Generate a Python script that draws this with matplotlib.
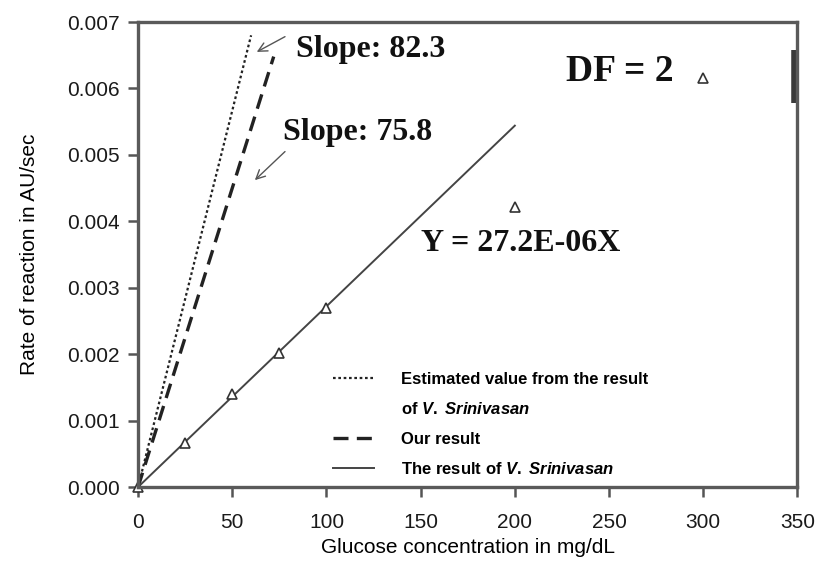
import numpy as np
import matplotlib.pyplot as plt
from matplotlib.lines import Line2D

# measured points (triangles)
conc = [0, 25, 50, 75, 100, 200, 300]
rate = [0.0, 0.00066, 0.0014, 0.00202, 0.0027, 0.00422, 0.00616]

# fitted / estimated lines (end points)
fit_x = [0, 200]
fit_y = [0.0, 0.00544]
ours_x = [0, 72]
ours_y = [0.0, 0.00648]
est_x = [0, 60]
est_y = [0.0, 0.0068]

plt.rcParams['font.family'] = ['Liberation Sans', 'DejaVu Sans']
plt.rcParams['mathtext.fontset'] = 'custom'
plt.rcParams['mathtext.it'] = 'Liberation Sans:bold:italic'
plt.rcParams['mathtext.rm'] = 'Liberation Sans:bold'

fig = plt.figure(figsize=(8.17, 5.65), dpi=100)
ax = fig.add_axes([0.169, 0.138, 0.807, 0.823])

dot_style = (0, (1.2, 1.2))
dash_style = (0, (4.5, 2.5))
ax.plot(est_x, est_y, color='#222222', lw=1.6, linestyle=dot_style)
ax.plot(ours_x, ours_y, color='#222222', lw=2.4, linestyle=dash_style)
ax.plot(fit_x, fit_y, color='#444444', lw=1.4)
ax.plot(conc, rate, linestyle='none', marker='^', ms=7.5, mfc='white',
        mec='#333333', mew=1.2, clip_on=False)

ax.set_xlim(0, 350)
ax.set_ylim(0, 0.007)
ax.set_xticks(np.arange(0, 351, 50))
ax.set_yticks(np.arange(0, 0.0071, 0.001))
ax.set_yticklabels([f'{v:.3f}' for v in np.arange(0, 0.0071, 0.001)])
ax.tick_params(direction='out', length=7, width=1.8, labelsize=15,
               color='#555555', labelcolor='#1a1a1a')
ax.tick_params(axis='x', pad=12)
ax.tick_params(axis='y', pad=6)
for sp in ax.spines.values():
    sp.set_linewidth(2.4)
    sp.set_color('#5a5a5a')
# dark segment on the right border of the original
ax.plot([0.995, 0.995], [0.826, 0.94], transform=ax.transAxes, color='#3a3a3a',
        lw=4, clip_on=False, solid_capstyle='butt')

ax.set_xlabel('Glucose concentration in mg/dL', fontsize=15, labelpad=4)
ax.set_ylabel('Rate of reaction in AU/sec', fontsize=15, labelpad=20)

serif = dict(family='Liberation Serif', fontweight='bold', color='#111111')
arrow = dict(arrowstyle='->', color='#555555', lw=1.0, shrinkA=0, shrinkB=0,
             mutation_scale=16)
ax.annotate('', xy=(63, 0.00655), xytext=(78, 0.00678), arrowprops=arrow)
ax.annotate('', xy=(62, 0.00462), xytext=(78, 0.00505), arrowprops=arrow)
ax.text(84, 0.00658, 'Slope: 82.3', va='center', ha='left', fontsize=23, **serif)
ax.text(77, 0.00533, 'Slope: 75.8', va='center', ha='left', fontsize=23, **serif)
ax.text(227, 0.00626, 'DF = 2', va='center', ha='left', fontsize=27, **serif)
ax.text(150, 0.00367, 'Y = 27.2E-06X', va='center', ha='left', fontsize=23, **serif)

handles = [Line2D([], [], color='#222222', lw=1.6, linestyle=dot_style),
           Line2D([], [], color='none'),
           Line2D([], [], color='#222222', lw=2.4, linestyle=dash_style),
           Line2D([], [], color='#444444', lw=1.4)]
labels = ['Estimated value from the result',
          'of $\\mathit{V.}$ $\\mathit{Srinivasan}$',
          'Our result',
          'The result of $\\mathit{V.}$ $\\mathit{Srinivasan}$']
leg = ax.legend(handles, labels, loc='upper left', bbox_to_anchor=(0.295, 0.247),
                frameon=False, handlelength=2.5, handletextpad=1.6,
                borderaxespad=0, borderpad=0,
                prop=dict(weight='bold', size=12), labelspacing=0.85)

fig.savefig('out.png', dpi=100)
